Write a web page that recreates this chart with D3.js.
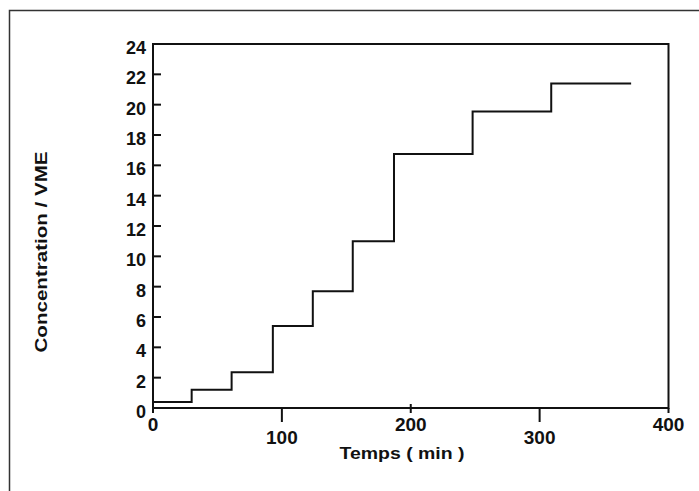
<!DOCTYPE html>
<html>
<head>
<meta charset="utf-8">
<script src="https://cdn.jsdelivr.net/npm/d3@7"></script>
<style>
  body { margin: 0; background: #fff; }
  .ticklabel { font-family: "Liberation Sans", Arial, sans-serif; font-weight: bold; fill: #111; }
  .axis_label { font-family: "Liberation Sans", Arial, sans-serif; font-weight: bold; fill: #111; }
</style>
</head>
<body>
<div id="vis"></div>
<script>
// step start times (min) and concentration level held from that time
var step_times = [0, 30, 61, 93, 124, 155, 187, 248, 309];
var step_levels = [0.4, 1.2, 2.35, 5.4, 7.7, 11.0, 16.75, 19.55, 21.4];
var end_time = 371;

var x_ticks = [0, 100, 200, 300, 400];
var y_ticks = [0, 2, 4, 6, 8, 10, 12, 14, 16, 18, 20, 22, 24];

var width = 699, height = 491;
var plot_left = 153, plot_right = 668.5, plot_top = 44, plot_bottom = 408;

var svg = d3.select("#vis")
    .append("svg")
    .attr("width", width)
    .attr("height", height);

// outer frame (cut off at right and bottom)
svg.append("rect")
    .attr("x", 9.5)
    .attr("y", 10.5)
    .attr("width", 900)
    .attr("height", 700)
    .attr("fill", "none")
    .attr("stroke", "#333")
    .attr("stroke-width", 1.5);

var xScale = d3.scaleLinear().domain([0, 400]).range([plot_left, plot_right]);
var yScale = d3.scaleLinear().domain([0, 24]).range([plot_bottom, plot_top]);

// plot box
svg.append("rect")
    .attr("x", plot_left)
    .attr("y", plot_top)
    .attr("width", plot_right - plot_left)
    .attr("height", plot_bottom - plot_top)
    .attr("fill", "none")
    .attr("stroke", "#111")
    .attr("stroke-width", 2);

// y ticks pointing inwards
svg.selectAll(".ytick")
    .data(y_ticks.slice(1, -1))
    .enter()
    .append("line")
    .attr("x1", plot_left)
    .attr("x2", plot_left + 8)
    .attr("y1", function(d) { return yScale(d); })
    .attr("y2", function(d) { return yScale(d); })
    .attr("stroke", "#111")
    .attr("stroke-width", 2);

svg.selectAll(".ylabel")
    .data(y_ticks)
    .enter()
    .append("text")
    .attr("class", "ticklabel")
    .attr("x", plot_left - 7)
    .attr("y", function(d) { return yScale(d) + 10; })
    .attr("text-anchor", "end")
    .style("font-size", "18px")
    .text(function(d) { return d; });

// x ticks, staggered like the original
svg.selectAll(".xtick")
    .data(x_ticks)
    .enter()
    .append("line")
    .attr("x1", function(d) { return xScale(d); })
    .attr("x2", function(d) { return xScale(d); })
    .attr("y1", function(d, i) { return i === 2 ? plot_bottom - 4 : plot_bottom; })
    .attr("y2", function(d, i) { return i % 2 === 1 ? plot_bottom + 14 : plot_bottom + 5; })
    .attr("stroke", "#111")
    .attr("stroke-width", 2);

svg.selectAll(".xlabel")
    .data(x_ticks)
    .enter()
    .append("text")
    .attr("class", "ticklabel")
    .attr("x", function(d) { return xScale(d); })
    .attr("y", function(d, i) { return i % 2 === 1 ? 444 : 431; })
    .attr("text-anchor", "middle")
    .style("font-size", "19px")
    .text(function(d) { return d; });

// the step curve
var points = step_times.map(function(t, i) { return [t, step_levels[i]]; });
points.push([end_time, step_levels[step_levels.length - 1]]);

var line = d3.line()
    .x(function(d) { return xScale(d[0]); })
    .y(function(d) { return yScale(d[1]); })
    .curve(d3.curveStepAfter);

svg.append("path")
    .datum(points)
    .attr("d", line)
    .attr("fill", "none")
    .attr("stroke", "#111")
    .attr("stroke-width", 2);

// axis titles
svg.append("text")
    .attr("class", "axis_label")
    .attr("x", 402)
    .attr("y", 459)
    .attr("text-anchor", "middle")
    .attr("textLength", 125)
    .attr("lengthAdjust", "spacingAndGlyphs")
    .style("font-size", "17px")
    .text("Temps ( min )");

svg.append("text")
    .attr("class", "axis_label")
    .attr("transform", "translate(47, 252) rotate(-90)")
    .attr("text-anchor", "middle")
    .attr("textLength", 201)
    .attr("lengthAdjust", "spacingAndGlyphs")
    .style("font-size", "17px")
    .text("Concentration / VME");
</script>
</body>
</html>
